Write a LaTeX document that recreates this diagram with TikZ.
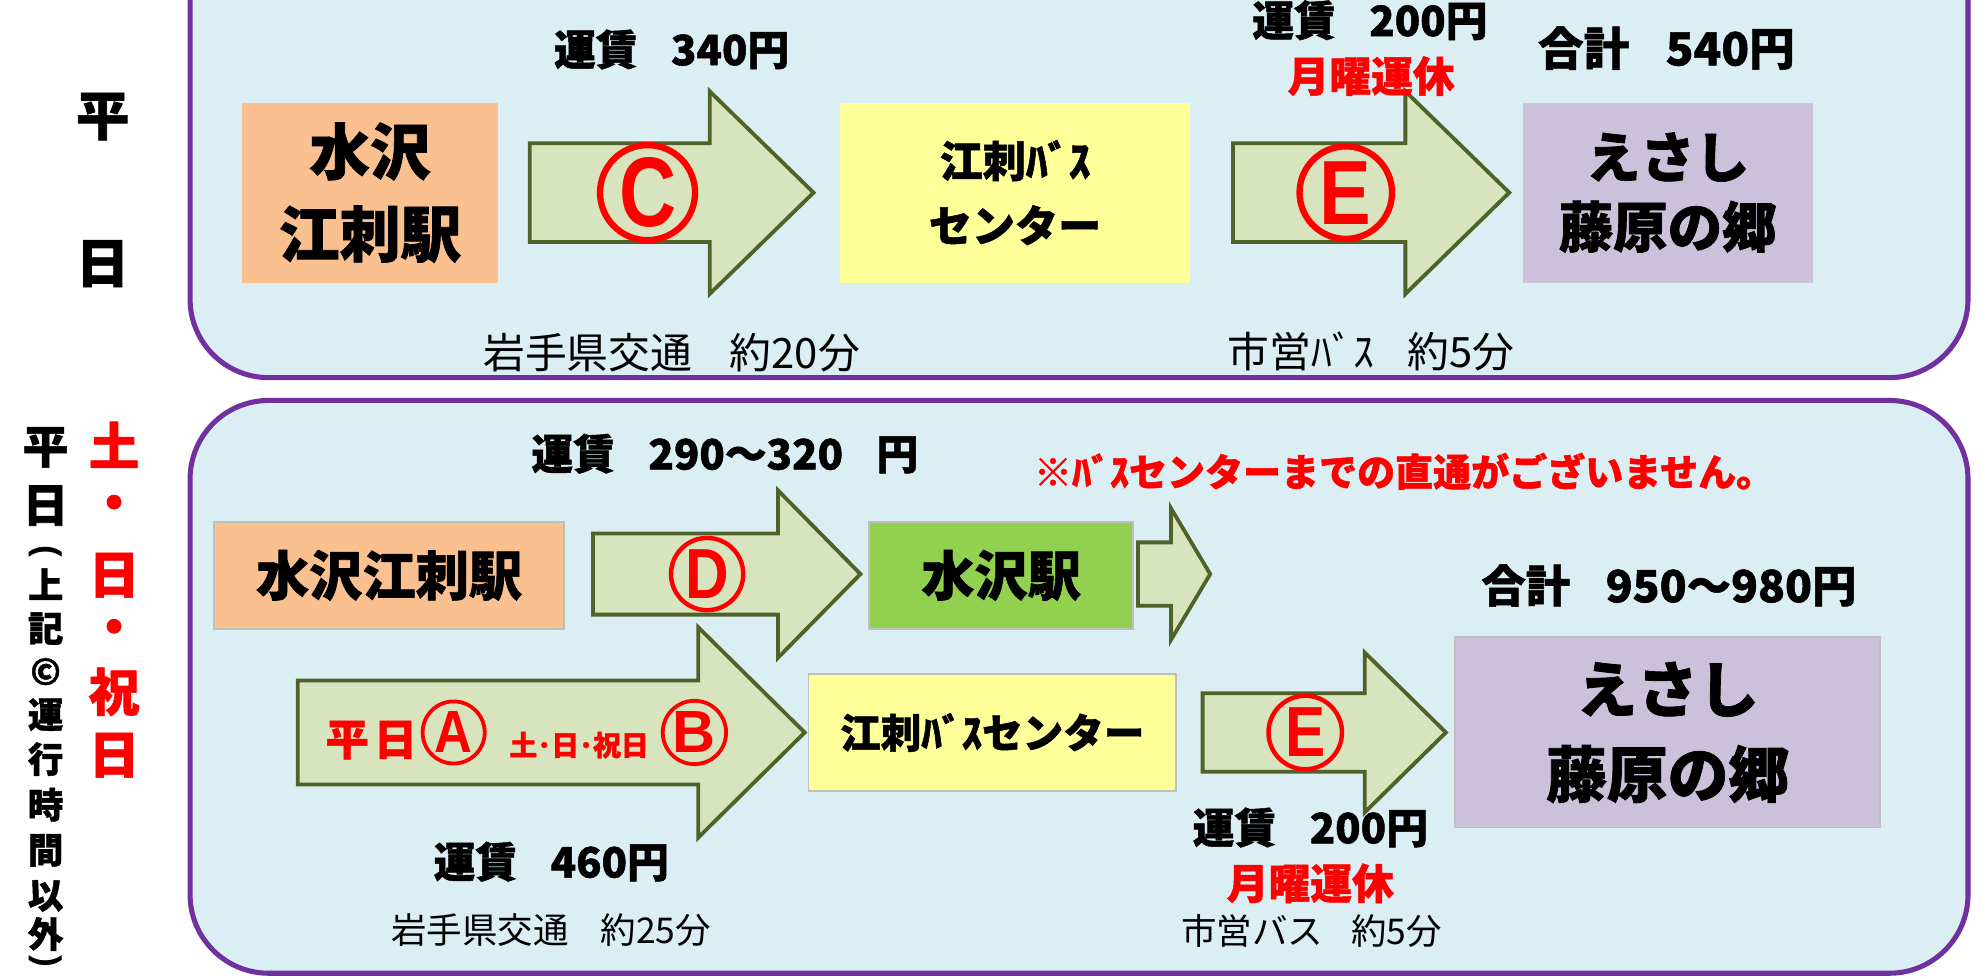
\documentclass[tikz,border=0pt]{standalone}
\usepackage{graphicx}
\usepackage{fontspec}
\newfontfamily\jp{Noto Sans CJK JP}[BoldFeatures={FakeBold=1.2}]
\newfontfamily\lat{Liberation Sans}
\definecolor{panelfill}{HTML}{DAEEF3}
\definecolor{panelline}{HTML}{7030A0}
\definecolor{peach}{HTML}{FAC090}
\definecolor{ylw}{HTML}{FFFF99}
\definecolor{lav}{HTML}{CCC1DA}
\definecolor{grn}{HTML}{92D050}
\definecolor{arrfill}{HTML}{D7E4BD}
\definecolor{arrline}{HTML}{4F6228}
\definecolor{jred}{HTML}{FF0000}
\definecolor{boxline}{HTML}{BFBFBF}
\newcommand\fsz[1]{\fontsize{#1}{#1}\selectfont}
\newcommand\narrow[2]{\scalebox{#1}[1]{#2}}
\newcommand\blockarrow[6]{\draw[blk] (#1,#2-#3) -- (#4,#2-#3) -- (#4,#2-#5) -- (#6,#2) -- (#4,#2+#5) -- (#4,#2+#3) -- (#1,#2+#3) -- cycle;}
\begin{document}
\begin{tikzpicture}[x=1pt,y=-1pt,
  panel/.style={draw=panelline, line width=4pt, fill=panelfill, rounded corners=62pt},
  station/.style={rectangle, inner sep=0pt, align=center},
  framed/.style={draw=boxline, line width=1.5pt},
  blk/.style={fill=arrfill, draw=arrline, line width=3pt, line join=miter},
  circ/.style={circle, draw=jred, line width=5pt, inner sep=0pt, text=jred},
  lbl/.style={inner sep=0pt},
]
\useasboundingbox (0,0) rectangle (1568,772);
\fill[white] (0,0) rectangle (1568,772);
% panels
\draw[panel] (150,-70) rectangle (1553,298);
\draw[panel] (150,316) rectangle (1553,768);

% ---------- top row ----------
\node[lbl, font=\jp\bfseries\fsz{42}] (h1) at (81,92) {平};
\node[lbl, font=\jp\bfseries\fsz{42}] (h2) at (81,208) {日};

\node[station, fill=peach, minimum width=202, minimum height=142, font=\jp\bfseries\fontsize{48}{65}\selectfont] (tA) at (292,152) {水沢\\江刺駅};
\node[station, fill=ylw, minimum width=276, minimum height=142, font=\jp\bfseries\fontsize{34}{51}\selectfont] (tB) at (801,152) {江刺ﾊﾞｽ\\センター};
\node[station, fill=lav, minimum width=229, minimum height=142, font=\jp\bfseries\fontsize{43}{55}\selectfont] (tC) at (1316,152) {えさし\\藤原の郷};

\blockarrow{418}{152}{39}{560}{80}{642}
\blockarrow{973}{152}{39}{1109}{80}{1191}
\node[circ, minimum size=75, font=\lat\bfseries\fsz{78}] (cC) at (511,152) {\narrow{0.8}{C}};
\node[circ, minimum size=73, font=\lat\bfseries\fsz{72}] (cE1) at (1062,152) {\narrow{0.85}{E}};

\node[lbl, font=\jp\bfseries\fsz{33}] (f1) at (530,39) {運賃\hspace{0.8em}340円};
\node[lbl, font=\jp\fsz{33}] (d1) at (530,278) {岩手県交通\hspace{0.9em}約20分};
\node[lbl, font=\jp\bfseries\fsz{33}] (f2) at (1081,16) {運賃\hspace{0.8em}200円};
\node[lbl, font=\jp\bfseries\fsz{33}, text=jred] (m1) at (1082,60) {月曜運休};
\node[lbl, font=\jp\bfseries\fsz{36}] (s1) at (1315,38) {合計\hspace{0.8em}540円};
\node[lbl, font=\jp\fsz{33}] (d2) at (1082,277) {市営ﾊﾞｽ\hspace{0.8em}約5分};

% ---------- left labels of the lower panel ----------
\foreach \ch/\yy/\sz [count=\i] in {平/353/36, 日/399/36, 上/461/28, 記/496/28, ©/530/28, 運/564/28, 行/599/28, 時/635/28, 間/671/28, 以/707/28, 外/737/28}
  \node[lbl, font=\jp\bfseries\fsz{\sz}] (v\i) at (36,\yy) {\ch};
\node[lbl, font=\lat\bfseries\fsz{28}] (vpo) at (36,435) {\rotatebox{-90}{(}};
\node[lbl, font=\lat\bfseries\fsz{28}] (vpc) at (36,759) {\rotatebox{-90}{)}};
\foreach \ch/\yy [count=\i] in {土/351, ・/401, 日/454, ・/499, 祝/546, 日/596}
  \node[lbl, font=\jp\bfseries\fsz{40}, text=jred] (r\i) at (90,\yy) {\ch};

% ---------- bottom ----------
\node[station, framed, fill=peach, minimum width=276, minimum height=84, font=\jp\bfseries\fsz{42}] (bA) at (307,454) {水沢江刺駅};
\node[station, framed, fill=grn, minimum width=208, minimum height=84, font=\jp\bfseries\fsz{42}] (bB) at (790,454) {水沢駅};
\blockarrow{468}{453}{32}{614}{66}{679}
\node[circ, minimum size=57, line width=3.5pt, font=\lat\bfseries\fsz{56}] (cD) at (558,453) {\narrow{0.85}{D}};
\blockarrow{898}{453}{25}{924}{52}{955}

\blockarrow{235}{578}{41}{551}{83}{635}
\node[lbl, font=\jp\bfseries\fsz{34}, text=jred] (wk) at (293,584) {平\hspace{0.12em}日};
\node[circ, minimum size=49, line width=3pt, font=\lat\bfseries\fsz{47}] (cA) at (358,578) {\narrow{0.88}{A}};
\node[lbl, font=\jp\bfseries\fsz{22}, text=jred] (we) at (457,588) {土･日･祝日};
\node[circ, minimum size=50, line width=3pt, font=\lat\bfseries\fsz{47}] (cB) at (548,578) {B};

\node[station, framed, fill=ylw, minimum width=290, minimum height=92, font=\jp\bfseries\fsz{32}] (bC) at (783,578) {江刺ﾊﾞｽセンター};
\blockarrow{949}{578}{31}{1077}{63}{1141}
\node[circ, minimum size=58, line width=3.5pt, font=\lat\bfseries\fsz{56}] (cE2) at (1030,578) {\narrow{0.85}{E}};
\node[station, framed, fill=lav, minimum width=335, minimum height=150, font=\jp\bfseries\fontsize{48}{67}\selectfont] (bD) at (1316,578) {えさし\\藤原の郷};

\node[lbl, font=\jp\bfseries\fsz{33}] (f3) at (572,358) {運賃\hspace{0.8em}290〜320\hspace{0.8em}円};
\node[lbl, font=\jp\bfseries\fsz{30}, text=jred] (nt) at (1108,372) {※ﾊﾞｽセンターまでの直通がございません。};
\node[lbl, font=\jp\bfseries\fsz{35}] (s2) at (1317,462) {合計\hspace{0.8em}950〜980円};
\node[lbl, font=\jp\bfseries\fsz{33}] (f4) at (435,680) {運賃\hspace{0.8em}460円};
\node[lbl, font=\jp\fsz{28}] (d3) at (435,734) {岩手県交通\hspace{0.9em}約25分};
\node[lbl, font=\jp\bfseries\fsz{33}] (f5) at (1034,653) {運賃\hspace{0.8em}200円};
\node[lbl, font=\jp\bfseries\fsz{33}, text=jred] (m2) at (1034,697) {月曜運休};
\node[lbl, font=\jp\fsz{28}] (d4) at (1035,735) {市営バス\hspace{0.8em}約5分};
\end{tikzpicture}
\end{document}
